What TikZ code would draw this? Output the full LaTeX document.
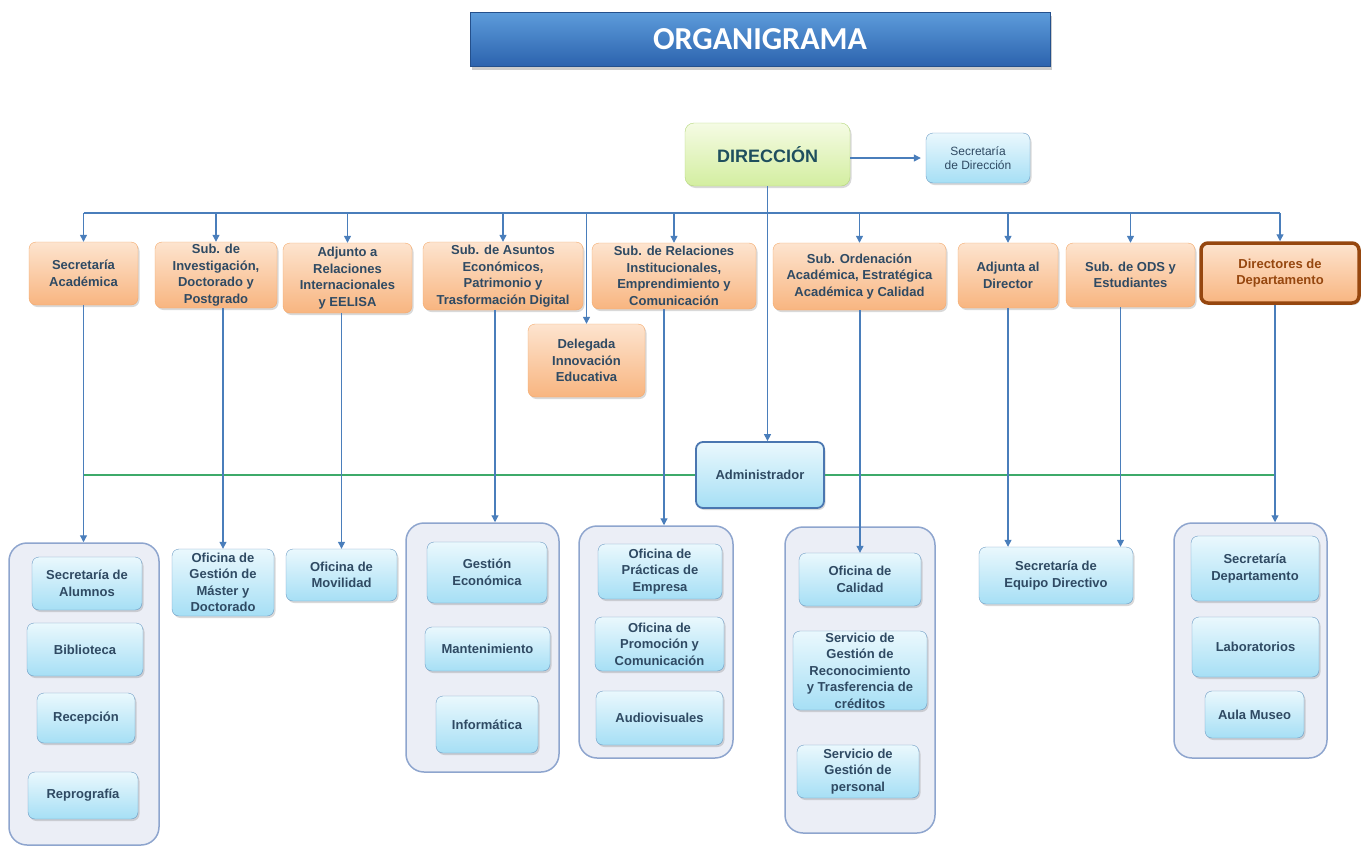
\documentclass[tikz,border=0pt]{standalone}
\usepackage{fontspec}
\setmainfont{Liberation Sans}
\newfontfamily\titlefont{Carlito}
\usetikzlibrary{arrows.meta,shadows}

\definecolor{linkblue}{HTML}{4A7EBB}
\definecolor{admingreen}{HTML}{3DAA6A}
\definecolor{orangetop}{HTML}{FDE4CF}
\definecolor{orangebot}{HTML}{F8B580}
\definecolor{orangeline}{HTML}{F3A86A}
\definecolor{bluetop}{HTML}{EAF8FD}
\definecolor{bluebot}{HTML}{A6DFF5}
\definecolor{blueline}{HTML}{6C9BC4}
\definecolor{grouplilac}{HTML}{EBEEF6}
\definecolor{groupline}{HTML}{8EA5CE}
\definecolor{boxtext}{HTML}{2F4A63}
\definecolor{deptbrown}{HTML}{96470F}
\definecolor{dirtext}{HTML}{1F4F5E}
\definecolor{dirtop}{HTML}{F5FBE4}
\definecolor{dirbot}{HTML}{D3EEA0}
\definecolor{dirline}{HTML}{B3D67A}
\definecolor{titletop}{HTML}{5D9CDB}
\definecolor{titlebot}{HTML}{2C63AE}
\definecolor{titleline}{HTML}{24508C}
\definecolor{adminline}{HTML}{4A76B0}

\begin{document}
\begin{tikzpicture}[x=1pt,y=-1pt,
  box/.style={rounded corners=7pt, align=center, inner sep=1pt, text=boxtext,
    font=\fontsize{13}{16.5}\selectfont\bfseries,
    drop shadow={shadow xshift=1.5pt, shadow yshift=-2pt, opacity=.3}},
  subbox/.style={box, draw=orangeline, top color=orangetop, bottom color=orangebot},
  unitbox/.style={box, draw=blueline, top color=bluetop, bottom color=bluebot},
  groupbox/.style={draw=groupline, line width=1.5pt, fill=grouplilac, rounded corners=18pt},
  titlebar/.style={draw=titleline, top color=titletop, bottom color=titlebot, text=white,
    font=\titlefont\fontsize{32}{36}\selectfont\bfseries,
    drop shadow={shadow xshift=2pt, shadow yshift=-4pt, opacity=.4}},
  link/.style={draw=linkblue, line width=1.2pt, -{Triangle[length=7pt,width=7pt]}},
  busline/.style={draw=linkblue, line width=1.2pt},
  greenline/.style={draw=admingreen, line width=1.2pt},
]
\useasboundingbox (0,0) rectangle (1367,846);

\node[titlebar, minimum width=580pt, minimum height=54pt] (title) at (760,39) {ORGANIGRAMA};

\node[box, draw=dirline, top color=dirtop, bottom color=dirbot, text=dirtext, rounded corners=9pt,
  font=\fontsize{18}{20}\selectfont\bfseries, minimum width=165pt, minimum height=63pt] (dir) at (767.5,154.5) {DIRECCIÓN};
\node[unitbox, font=\fontsize{12}{14}\selectfont, minimum width=104pt, minimum height=50pt] (secdir) at (978,158) {Secretaría\\de Dirección};

\coordinate (bus) at (0,213);

\node[subbox, minimum width=109pt, minimum height=63pt] (sa) at (83.5,273.5) {Secretaría\\Académica};
\node[subbox, minimum width=122pt, minimum height=66pt] (sinv) at (216,275) {Sub. de\\Investigación,\\Doctorado y\\Postgrado};
\node[subbox, minimum width=129pt, minimum height=70pt] (adri) at (347.5,278) {Adjunto a\\Relaciones\\Internacionales\\y EELISA};
\node[subbox, minimum width=160pt, minimum height=68pt] (sae) at (503,276) {Sub. de Asuntos\\Económicos,\\Patrimonio y\\Trasformación Digital};
\node[subbox, minimum width=164pt, minimum height=66pt] (sri) at (674,276) {Sub. de Relaciones\\Institucionales,\\Emprendimiento y\\Comunicación};
\node[subbox, minimum width=117pt, minimum height=73pt] (deleg) at (586.5,360.5) {Delegada\\Innovación\\Educativa};
\node[subbox, minimum width=173pt, minimum height=67pt] (sord) at (859.5,276.5) {Sub. Ordenación\\Académica, Estratégica\\Académica y Calidad};
\node[subbox, minimum width=100pt, minimum height=65pt] (adjd) at (1008,275.5) {Adjunta al\\Director};
\node[subbox, minimum width=129pt, minimum height=64pt] (sods) at (1130.5,275) {Sub. de ODS y\\Estudiantes};
\node[subbox, draw=deptbrown, line width=3.5pt, text=deptbrown, minimum width=158pt, minimum height=60pt] (ddep) at (1280,273) {Directores de\\Departamento};

\node[unitbox, draw=adminline, line width=1.8pt, minimum width=128pt, minimum height=66pt] (admin) at (760,475) {Administrador};

\node[groupbox, minimum width=150pt, minimum height=302pt] (g1) at (84,694) {};
\node[unitbox, minimum width=110pt, minimum height=53pt] (salum) at (87,583.5) {Secretaría de\\Alumnos};
\node[unitbox, minimum width=116pt, minimum height=53pt] (bibl) at (85,649.5) {Biblioteca};
\node[unitbox, minimum width=98pt, minimum height=50pt] (recep) at (86,718) {Recepción};
\node[unitbox, minimum width=110pt, minimum height=47pt] (repro) at (83,795.5) {Reprografía};

\node[unitbox, minimum width=102pt, minimum height=67pt] (ofmaster) at (223,582.5) {Oficina de\\Gestión de\\Máster y\\Doctorado};
\node[unitbox, minimum width=111pt, minimum height=52pt] (ofmov) at (341.5,575) {Oficina de\\Movilidad};

\node[groupbox, minimum width=153pt, minimum height=249pt] (g2) at (482.5,647.5) {};
\node[unitbox, minimum width=120pt, minimum height=61pt] (gecon) at (487,572.5) {Gestión\\Económica};
\node[unitbox, minimum width=125pt, minimum height=44pt] (mant) at (487.5,649) {Mantenimiento};
\node[unitbox, minimum width=102pt, minimum height=57pt] (infor) at (487,724.5) {Informática};

\node[groupbox, minimum width=154pt, minimum height=232pt] (g3) at (656,642) {};
\node[unitbox, minimum width=124pt, minimum height=55pt] (ofprac) at (660,571.5) {Oficina de\\Prácticas de\\Empresa};
\node[unitbox, minimum width=129pt, minimum height=54pt] (ofprom) at (659.5,644) {Oficina de\\Promoción y\\Comunicación};
\node[unitbox, minimum width=127pt, minimum height=54pt] (audio) at (659.5,718) {Audiovisuales};

\node[groupbox, minimum width=150pt, minimum height=306pt] (g4) at (860,680) {};
\node[unitbox, minimum width=122pt, minimum height=53pt] (ofcal) at (860,579.5) {Oficina de\\Calidad};
\node[unitbox, minimum width=134pt, minimum height=79pt] (srec) at (860,670.5) {Servicio de\\Gestión de\\Reconocimiento\\y Trasferencia de\\créditos};
\node[unitbox, minimum width=122pt, minimum height=53pt] (spers) at (858,771.5) {Servicio de\\Gestión de\\personal};

\node[unitbox, minimum width=154pt, minimum height=57pt] (sequip) at (1056,575.5) {Secretaría de\\Equipo Directivo};

\node[groupbox, minimum width=153pt, minimum height=235pt] (g5) at (1250.5,640.5) {};
\node[unitbox, minimum width=128pt, minimum height=65pt] (secdep) at (1255,568.5) {Secretaría\\Departamento};
\node[unitbox, minimum width=127pt, minimum height=60pt] (labs) at (1255.5,647) {Laboratorios};
\node[unitbox, minimum width=99pt, minimum height=47pt] (aula) at (1254.5,714.5) {Aula Museo};

\draw[link, shorten >=5pt] (dir.east |- secdir.west) -- (secdir.west);
\draw[link] (dir.south) -- (dir.south |- admin.north);
\draw[busline] (sa.north |- bus) -- (ddep.north |- bus);
\foreach \n in {sa,sinv,adri,sae,deleg,sri,sord,adjd,sods,ddep}
  \draw[link] (\n.north |- bus) -- (\n.north);

\draw[greenline] (sa.south |- admin.west) -- (admin.west);
\draw[greenline] (admin.east) -- ([xshift=-5pt]ddep.south |- admin.east);

\draw[link] (sa.south) -- (sa.south |- g1.north);
\draw[link] (ofmaster.north |- sinv.south) -- (ofmaster.north);
\draw[link] (ofmov.north |- adri.south) -- (ofmov.north);
\draw[link] ([xshift=-8pt]sae.south) -- ([xshift=-8pt]sae.south |- g2.north);
\draw[link] ([xshift=-10pt]sri.south) -- ([xshift=-10pt]sri.south |- g3.north);
\draw[link] (ofcal.north |- sord.south) -- (ofcal.north);
\draw[link] (adjd.south) -- (adjd.south |- sequip.north);
\draw[link] ([xshift=-10pt]sods.south) -- ([xshift=-10pt]sods.south |- sequip.north);
\draw[link] ([xshift=-5pt]ddep.south) -- ([xshift=-5pt]ddep.south |- g5.north);
\end{tikzpicture}
\end{document}
